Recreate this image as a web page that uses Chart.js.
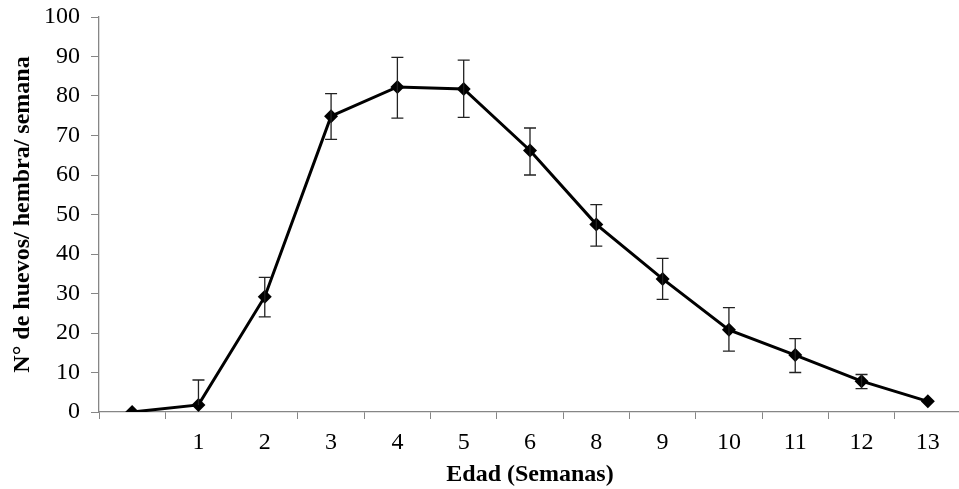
<!DOCTYPE html>
<html>
<head>
<meta charset="utf-8">
<script src="https://cdn.jsdelivr.net/npm/chart.js@4.4.0/dist/chart.umd.min.js"></script>
<style>
  html, body { margin: 0; padding: 0; background: #fff; overflow: hidden; }
  #wrap { width: 968px; height: 489px; }
</style>
</head>
<body>
<div id="wrap"><canvas id="myChart" width="968" height="489"></canvas></div>
<script>
// weeks (7 is not in the original figure)
const weeks = ['', '1', '2', '3', '4', '5', '6', '8', '9', '10', '11', '12', '13'];
const eggs = [0, 1.8, 29.2, 74.9, 82.3, 81.8, 66.2, 47.5, 33.7, 20.8, 14.4, 7.8, 2.7];
const errHigh = [0, 8.1, 34.1, 80.6, 89.8, 89.1, 71.9, 52.5, 38.9, 26.4, 18.6, 9.5, 2.7];
const errLow = [0, 1.8, 24.1, 69.0, 74.4, 74.6, 60.0, 42.0, 28.5, 15.4, 10.0, 5.9, 2.7];

const axisGray = '#868686';
const serif = 'Liberation Serif, Times New Roman, serif';

// draws the error bars from errHigh / errLow
const errorBars = {
    id: 'errorBars',
    afterDatasetsDraw(chart) {
        const ctx = chart.ctx;
        const x = chart.scales.x;
        const y = chart.scales.y;
        ctx.save();
        ctx.strokeStyle = '#222';
        ctx.lineWidth = 1.3;
        for (let i = 0; i < eggs.length; i++) {
            if (errHigh[i] === errLow[i]) continue;
            const px = x.getPixelForValue(i);
            const top = y.getPixelForValue(errHigh[i]);
            const bot = y.getPixelForValue(errLow[i]);
            ctx.beginPath();
            ctx.moveTo(px, top); ctx.lineTo(px, bot);
            ctx.moveTo(px - 6, top); ctx.lineTo(px + 6, top);
            if (errLow[i] !== eggs[i]) {
                ctx.moveTo(px - 6, bot); ctx.lineTo(px + 6, bot);
            }
            ctx.stroke();
        }
        ctx.restore();
    }
};

new Chart(document.getElementById('myChart'), {
    type: 'line',
    data: {
        labels: weeks,
        datasets: [{
            data: eggs,
            borderColor: '#000',
            backgroundColor: '#000',
            borderWidth: 3,
            pointStyle: 'rectRot',
            pointRadius: 7,
            pointBorderWidth: 0,
            tension: 0,
        }],
    },
    options: {
        responsive: false,
        animation: false,
        layout: { padding: { top: 17, right: 2, bottom: 0, left: 0 } },
        plugins: {
            legend: { display: false },
            tooltip: { enabled: false },
        },
        scales: {
            x: {
                offset: true,
                grid: {
                    offset: true,
                    drawOnChartArea: false,
                    color: axisGray,
                    tickLength: 7,
                },
                border: { color: axisGray, width: 1.3 },
                ticks: {
                    color: '#000',
                    padding: 9,
                    maxRotation: 0,
                    font: { family: serif, size: 24 },
                },
                title: {
                    display: true,
                    text: 'Edad (Semanas)',
                    color: '#000',
                    padding: { top: 2, bottom: 0 },
                    font: { family: serif, size: 24, weight: 'bold' },
                },
                afterFit: (s) => { s.height = 77; },
            },
            y: {
                min: 0,
                max: 100,
                ticks: {
                    stepSize: 10,
                    color: '#000',
                    padding: 11,
                    font: { family: serif, size: 24 },
                },
                grid: {
                    drawOnChartArea: false,
                    color: axisGray,
                    tickLength: 8,
                },
                border: { color: axisGray, width: 1.3 },
                title: {
                    display: true,
                    text: 'N° de huevos/ hembra/ semana',
                    color: '#000',
                    padding: { top: 8, bottom: 0 },
                    font: { family: serif, size: 24, weight: 'bold' },
                },
                afterFit: (s) => {
                    s.width = 99;
                    s.paddingTop = 0;
                },
            },
        },
    },
    plugins: [errorBars],
});
</script>
</body>
</html>
